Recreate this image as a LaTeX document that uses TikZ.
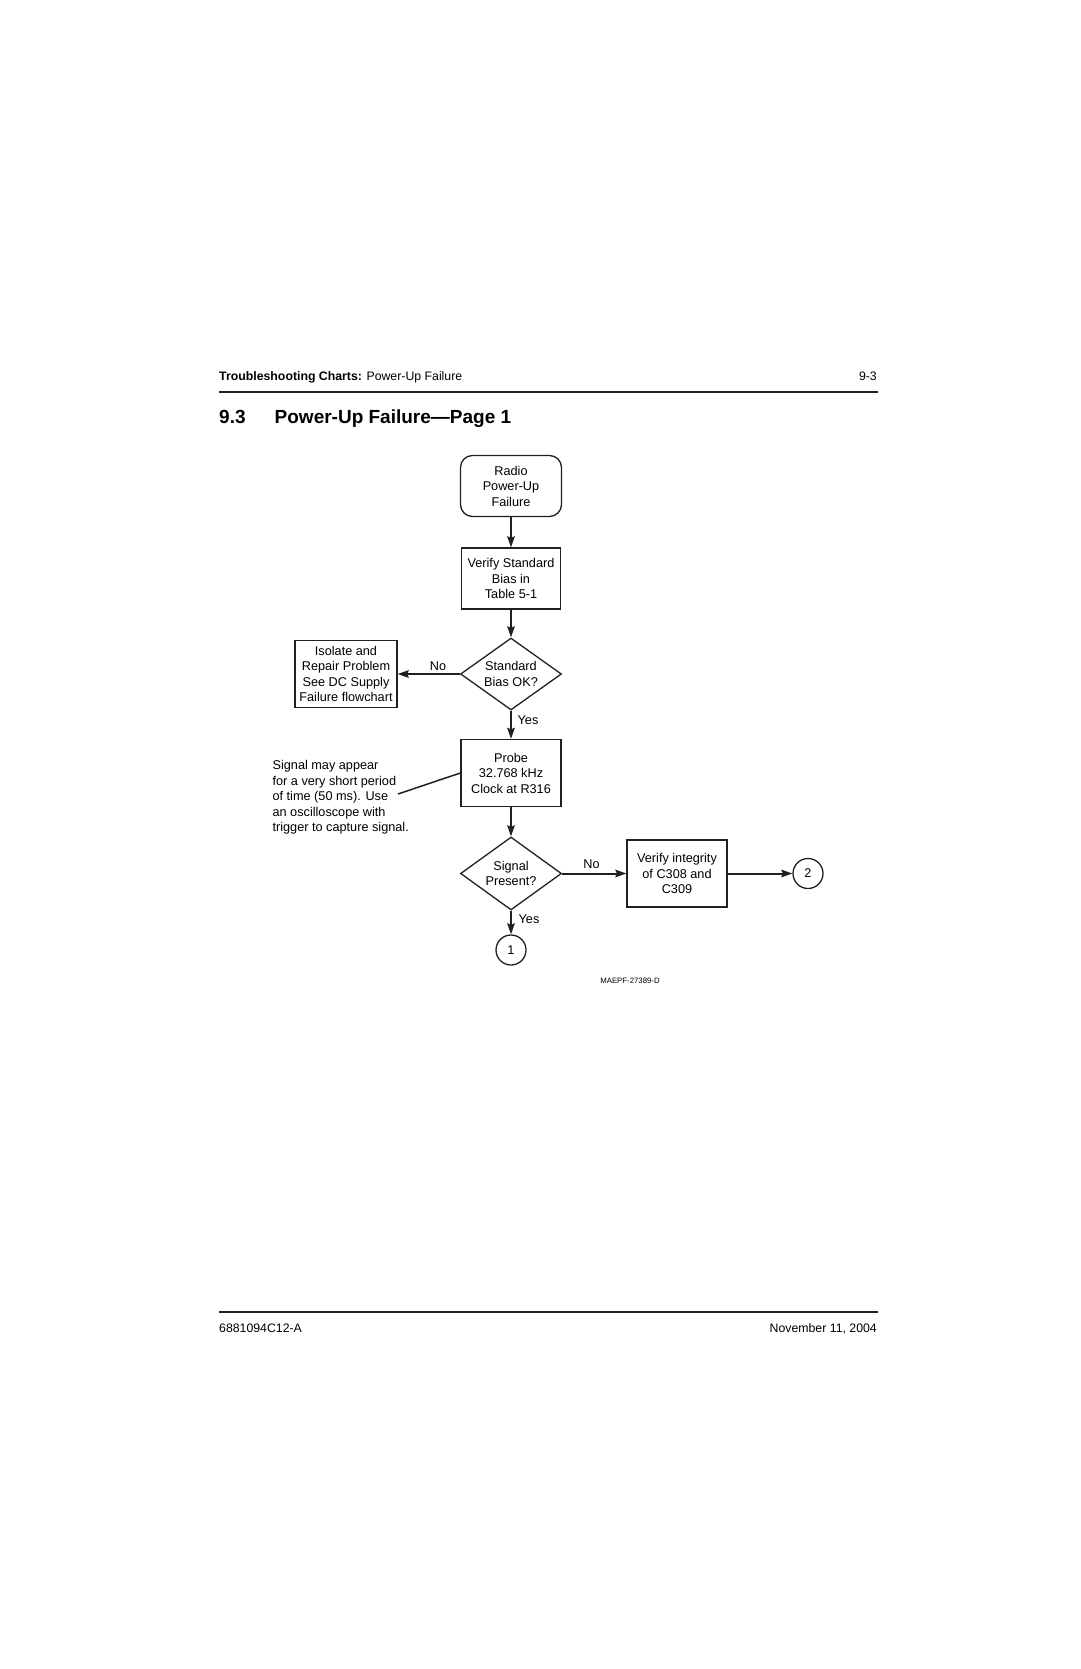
\documentclass[tikz,border=0pt]{standalone}
\usepackage{fontspec}
\setmainfont{Liberation Sans}
\usetikzlibrary{shapes.geometric,arrows.meta}
\definecolor{ink}{RGB}{35,31,32}

\begin{document}
\begin{tikzpicture}[x=1pt,y=-1pt,font=\fontsize{12.7}{15.5}\selectfont,
  box/.style={draw=ink,line width=1.3pt,inner sep=0pt,minimum width=100pt,minimum height=67pt,align=center},
  startbox/.style={box,rounded corners=12pt,minimum width=101pt,minimum height=61pt},
  ask/.style={diamond,draw=ink,line width=1.3pt,inner sep=0pt,shape aspect=1.4,minimum width=101pt,minimum height=73pt,align=center},
  off/.style={circle,draw=ink,line width=1.3pt,inner sep=0pt,minimum size=30pt},
  flow/.style={draw=ink,line width=2pt,-{Stealth[length=11pt,width=7.5pt,inset=1.5pt]}},
  lbl/.style={inner sep=0pt},
  pagetxt/.style={inner sep=0pt,font=\fontsize{12.3}{14}\selectfont}]
\useasboundingbox (0,0) rectangle (1080,1669);

%%% Page header
\node[pagetxt,anchor=base west] (hdr) at (219,380) {\textbf{Troubleshooting Charts:} Power-Up Failure};
\node[pagetxt,anchor=base east] (pgno) at (877,380) {9-3};
\draw[ink,line width=2pt] (219,391.6) -- (878,391.6);
\node[anchor=base west,inner sep=0pt,font=\fontsize{19}{22}\selectfont\bfseries] (secno) at (219,423) {9.3};
\node[anchor=base west,inner sep=0pt,font=\fontsize{19}{22}\selectfont\bfseries] (title) at (274.5,423) {Power-Up Failure—Page 1};

%%% Main column
\node[startbox] (start) at (511,486) {Radio\\Power-Up\\Failure};
\node[box,minimum width=99pt,minimum height=61pt] (bias) at (511,578.5) {Verify Standard\\Bias in\\Table 5-1};
\node[ask,minimum height=72pt] (biasok) at (511,674) {Standard\\Bias OK?};
\node[box,minimum width=102pt] (isolate) at (346,674) {Isolate and\\Repair Problem\\See DC Supply\\Failure flowchart};
\node[box] (probe) at (511,773) {Probe\\32.768 kHz\\Clock at R316};
\node[ask] (signal) at (511,873.5) {Signal\\Present?};
\node[box] (integrity) at (677,873.5) {Verify integrity\\of C308 and\\C309};
\node[off] (go1) at (511,950) {1};
\node[off] (go2) at (808,873.5) {2};

%%% Side note
\node[anchor=west,align=left,inner sep=0pt] (note) at (272.4,797.5) {Signal may appear\\for a very short period\\of time (50 ms). Use\\an oscilloscope with\\trigger to capture signal.};
\coordinate (notetip) at (398,794);

%%% Connectors
\draw[flow] (start) -- (bias);
\draw[flow] (bias) -- (biasok);
\draw[flow] (biasok) -- (isolate);
\draw[flow] (biasok) -- (probe);
\draw[flow] (probe) -- (signal);
\draw[flow] (signal) -- (integrity);
\draw[flow] (signal) -- (go1);
\draw[flow] (integrity) -- (go2);
\draw[ink,line width=1.5pt] (notetip) -- (probe.west);

%%% Branch labels
\node[lbl] (no1) at (438,666) {No};
\node[lbl] (yes1) at (528,720) {Yes};
\node[lbl] (no2) at (591.6,864) {No};
\node[lbl] (yes2) at (529,919) {Yes};

\node[lbl,font=\fontsize{7.8}{9}\selectfont] (figid) at (630,981) {MAEPF-27389-D};

%%% Page footer
\draw[ink,line width=2pt] (219,1312) -- (878,1312);
\node[pagetxt,anchor=base west] (docno) at (219,1332) {6881094C12-A};
\node[pagetxt,anchor=base east] (date) at (877,1332) {November 11, 2004};
\end{tikzpicture}
\end{document}
